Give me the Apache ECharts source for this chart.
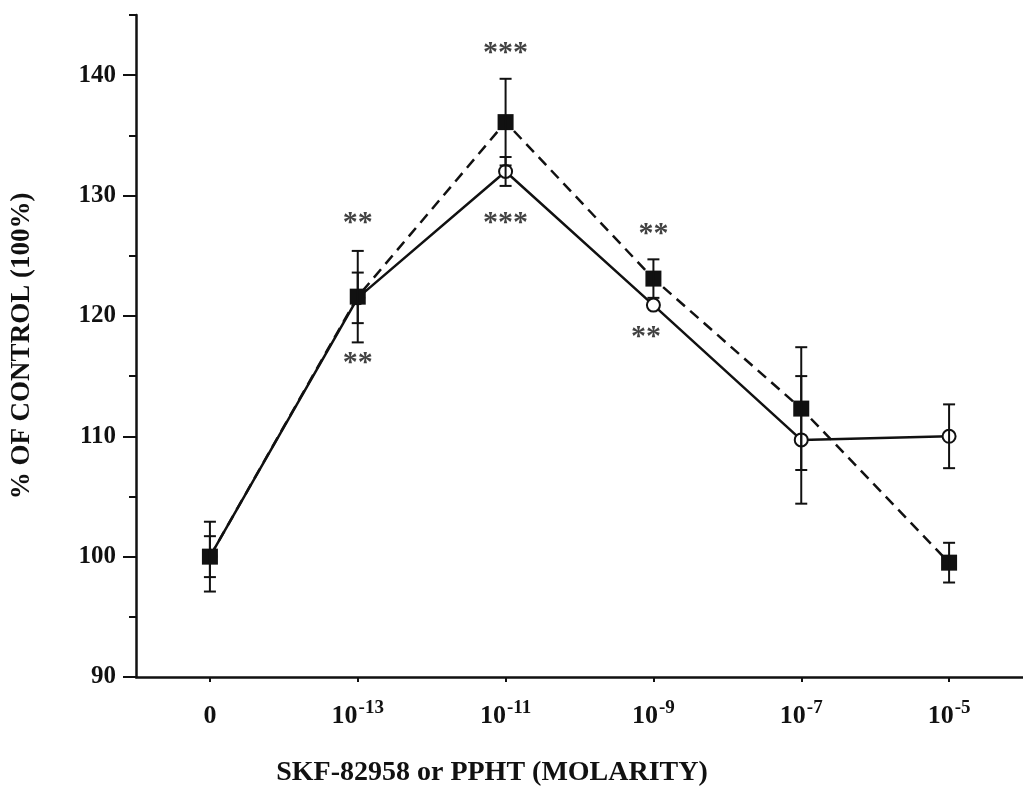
<!DOCTYPE html>
<html>
<head>
<meta charset="utf-8">
<script src="https://cdn.jsdelivr.net/npm/echarts@6/dist/echarts.min.js"></script>
<style>
html,body{margin:0;padding:0;background:#fff;}
#chart{width:1023px;height:789px;}
</style>
</head>
<body>
<div id="chart"></div>
<script>
// ---- data ----
var xIndex = [0, 1, 2, 3, 4, 5];
var xTickLabels = ['0', '10^-13', '10^-11', '10^-9', '10^-7', '10^-5'];
var yTickValues = [90, 100, 110, 120, 130, 140];
var yMinorTicks = [95, 105, 115, 125, 135, 145];

var squareValues = [100, 121.6, 136.1, 123.1, 112.3, 99.5];   // filled squares, dashed line
var squareErrors = [2.9, 3.8, 3.6, 1.6, 5.1, 1.65];
var circleValues = [100, 121.5, 132.0, 120.9, 109.7, 110.0];   // open circles, solid line
var circleErrors = [1.7, 2.1, 1.2, 0, 5.3, 2.65];

var starX = [1, 1, 2, 2, 3, 2.95];
var starY = [127.7, 116.1, 141.8, 127.7, 126.8, 118.2];
var starText = ['**', '**', '***', '***', '**', '**'];

var xTitle = 'SKF-82958 or PPHT (MOLARITY)';
var yTitle = '% OF CONTROL (100%)';

// ---- build ----
var FONT = '"Liberation Serif", "Times New Roman", serif';
var INK = '#111';

function pairs(vals) { return xIndex.map(function (x, i) { return [x, vals[i]]; }); }
function errRows(vals, errs) { return xIndex.map(function (x, i) { return [x, vals[i], errs[i]]; }); }

function errorRender(params, api) {
  var x = api.value(0), v = api.value(1), e = api.value(2);
  if (!e) return null;
  var top = api.coord([x, v + e]);
  var bot = api.coord([x, v - e]);
  var hw = 6;
  var st = { stroke: INK, lineWidth: 2 };
  return {
    type: 'group',
    children: [
      { type: 'line', shape: { x1: top[0], y1: top[1], x2: bot[0], y2: bot[1] }, style: st },
      { type: 'line', shape: { x1: top[0] - hw, y1: top[1], x2: top[0] + hw, y2: top[1] }, style: st },
      { type: 'line', shape: { x1: bot[0] - hw, y1: bot[1], x2: bot[0] + hw, y2: bot[1] }, style: st }
    ]
  };
}

var chart = echarts.init(document.getElementById('chart'), null, { renderer: 'canvas' });

chart.setOption({
  animation: false,
  backgroundColor: '#fff',
  grid: { left: 136, top: 15, width: 892, height: 662, containLabel: false },
  xAxis: {
    type: 'value', min: -0.5, max: 5.5,
    splitLine: { show: false },
    axisLine: { onZero: false, lineStyle: { color: INK, width: 2.5 } },
    axisTick: { show: true, customValues: xIndex, length: 5, inside: false, lineStyle: { color: INK, width: 2 } },
    axisLabel: {
      customValues: xIndex,
      margin: 22,
      formatter: function (v) {
        var s = xTickLabels[Math.round(v)];
        var p = s.split('^');
        return p.length > 1 ? '{b|' + p[0] + '}{s|' + p[1] + '}' : '{b|' + s + '}';
      },
      rich: {
        b: { fontFamily: FONT, fontWeight: 'bold', fontSize: 26, color: INK, verticalAlign: 'bottom', lineHeight: 30 },
        s: { fontFamily: FONT, fontWeight: 'bold', fontSize: 19, color: INK, verticalAlign: 'top', padding: [0, 0, 12, 1], lineHeight: 30 }
      }
    }
  },
  yAxis: [{
    type: 'value', min: 90, max: 145,
    splitLine: { show: false },
    axisLine: { onZero: false, lineStyle: { color: INK, width: 2.5 } },
    axisTick: { customValues: yTickValues, length: 13, lineStyle: { color: INK, width: 2 } },
    axisLabel: { customValues: yTickValues, margin: 20, fontFamily: FONT, fontWeight: 'bold', fontSize: 25, color: INK },
    name: yTitle, nameLocation: 'middle', nameGap: 100, nameRotate: 90,
    nameTextStyle: { fontFamily: FONT, fontWeight: 'bold', fontSize: 27, color: INK }
  }, {
    type: 'value', min: 90, max: 145, position: 'left', offset: 0,
    splitLine: { show: false },
    axisLine: { show: false, onZero: false },
    axisTick: { customValues: yMinorTicks, length: 7, lineStyle: { color: INK, width: 2 } },
    axisLabel: { show: false }
  }],
  graphic: [{
    type: 'text', x: 492, y: 773,
    style: { text: xTitle, fontFamily: FONT, fontWeight: 'bold', fontSize: 28, fill: INK, align: 'center', verticalAlign: 'middle' }
  }],
  series: [
    {
      type: 'line', name: 'circles', data: pairs(circleValues), z: 3,
      symbol: 'circle', symbolSize: 13,
      lineStyle: { color: INK, width: 2.5, type: 'solid' },
      itemStyle: { color: '#fff', borderColor: INK, borderWidth: 2 }
    },
    {
      type: 'line', name: 'squares', data: pairs(squareValues), z: 4,
      symbol: 'rect', symbolSize: 16,
      lineStyle: { color: INK, width: 2.5, type: [11, 7] },
      itemStyle: { color: INK, borderColor: INK, borderWidth: 0 }
    },
    { type: 'custom', name: 'circleErr', data: errRows(circleValues, circleErrors), renderItem: errorRender, z: 5 },
    { type: 'custom', name: 'squareErr', data: errRows(squareValues, squareErrors), renderItem: errorRender, z: 5 },
    {
      type: 'scatter', name: 'stars', z: 6, symbolSize: 0,
      data: starX.map(function (x, i) { return { value: [x, starY[i]], name: starText[i] }; }),
      label: {
        show: true, position: 'inside', formatter: '{b}',
        fontFamily: FONT, fontWeight: 'bold', fontSize: 30, color: INK, padding: [16, 0, 0, 0]
      }
    }
  ]
});
</script>
</body>
</html>
